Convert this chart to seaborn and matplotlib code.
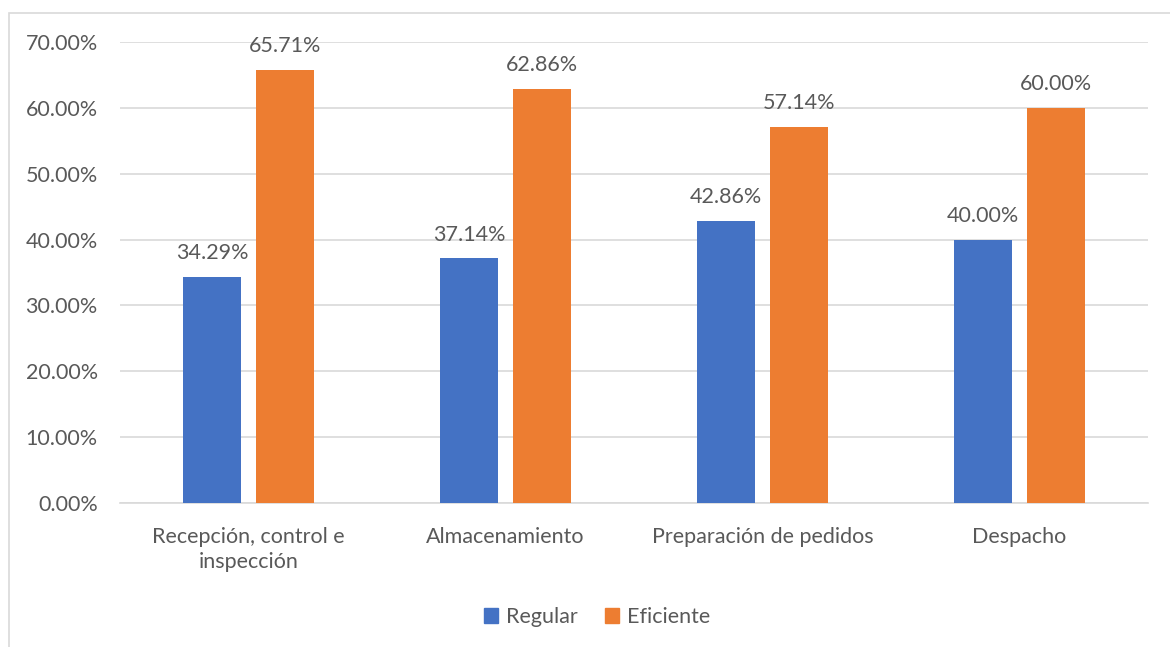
import matplotlib
matplotlib.use("Agg")
import matplotlib.pyplot as plt
import seaborn as sns
import pandas as pd
from matplotlib.patches import Rectangle

categories = ["Recepción, control e\ninspección", "Almacenamiento",
              "Preparación de pedidos", "Despacho"]
series = ["Regular", "Eficiente"]
regular = [34.29, 37.14, 42.86, 40.00]
eficiente = [65.71, 62.86, 57.14, 60.00]
yticks = [0, 10, 20, 30, 40, 50, 60, 70]
colors = ["#4472C4", "#ED7D31"]

df = pd.DataFrame({
    "cat": categories * 2,
    "serie": [series[0]] * 4 + [series[1]] * 4,
    "valor": regular + eficiente,
})

sns.set_theme(style="white")
plt.rcParams["font.family"] = ["Lato", "DejaVu Sans"]
text_color = "#595959"
grid_color = "#D9D9D9"
fs = 15.5

fig = plt.figure(figsize=(11.7, 6.47), dpi=100)
ax = fig.add_axes([120 / 1170, 1 - 503 / 647, 1028 / 1170, 461 / 647])

sns.barplot(data=df, x="cat", y="valor", hue="serie", order=categories,
            hue_order=series, palette=colors, width=0.57, gap=0.214,
            saturation=1, linewidth=0, ax=ax, legend=False, errorbar=None)

ax.set_ylim(0, 70)
ax.set_xlim(-0.5, len(categories) - 0.5)
ax.set_yticks(yticks)
ax.set_yticklabels([f"{v:.2f}%" for v in yticks], fontsize=fs, color=text_color)
ax.tick_params(axis="x", labelsize=fs, labelcolor=text_color, length=0, pad=17)
ax.tick_params(axis="y", length=0, pad=16)
for lbl in ax.get_xticklabels():
    lbl.set_linespacing(1.35)
ax.set_xlabel("")
ax.set_ylabel("")
ax.yaxis.grid(True, color=grid_color, linewidth=1.2)
ax.set_axisbelow(True)
for side in ["top", "right", "left"]:
    ax.spines[side].set_visible(False)
ax.spines["bottom"].set_color(grid_color)
ax.spines["bottom"].set_linewidth(1.2)
ax.spines["bottom"].set_zorder(0.5)

for container in ax.containers:
    ax.bar_label(container, labels=[f"{v:.2f}%" for v in container.datavalues],
                 padding=10, fontsize=fs, color=text_color)

# chart frame
fig.patches.append(Rectangle((9 / 1170, -0.1), 1.2, 1 - 13 / 647 + 0.1,
                             transform=fig.transFigure, fill=False,
                             edgecolor=grid_color, linewidth=1.2))

handles = [Rectangle((0, 0), 1, 1, color=c) for c in colors]
fig.legend(handles, series, loc="center", bbox_to_anchor=(597 / 1170, 1 - 617 / 647),
           ncol=2, frameon=False, fontsize=fs, labelcolor=text_color,
           handlelength=0.65, handleheight=0.65, handletextpad=0.35, columnspacing=1.3)

fig.savefig("out.png", dpi=100)
